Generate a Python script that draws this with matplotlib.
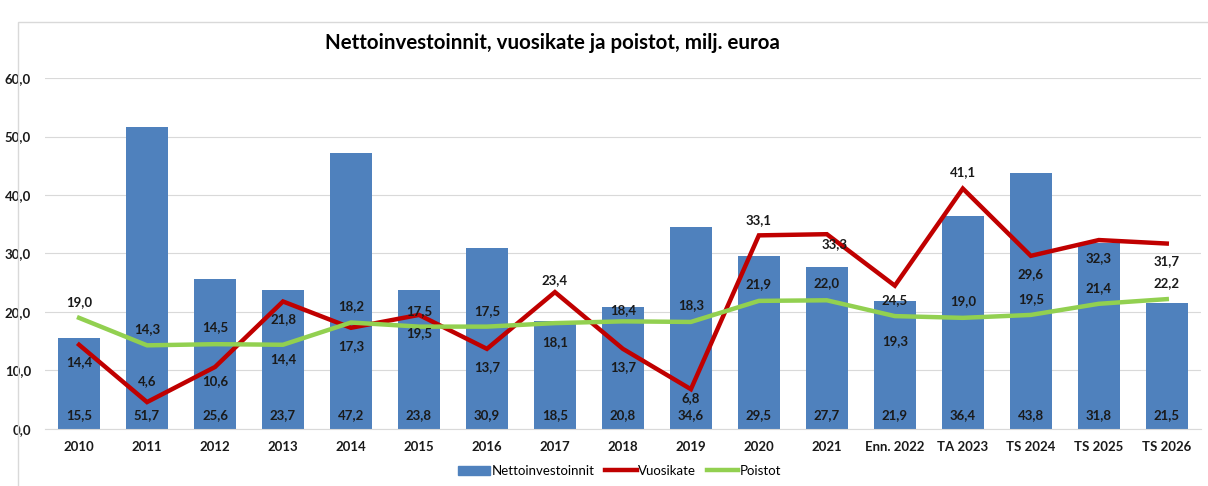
import matplotlib
matplotlib.use('Agg')
import matplotlib.pyplot as plt
from matplotlib.patches import Patch, Rectangle
from matplotlib.lines import Line2D
import numpy as np

plt.rcParams['font.family'] = ['Lato', 'DejaVu Sans']

categories = ['2010', '2011', '2012', '2013', '2014', '2015', '2016', '2017', '2018',
              '2019', '2020', '2021', 'Enn. 2022', 'TA 2023', 'TS 2024', 'TS 2025', 'TS 2026']
nettoinvestoinnit = [15.5, 51.7, 25.6, 23.7, 47.2, 23.8, 30.9, 18.5, 20.8,
                     34.6, 29.5, 27.7, 21.9, 36.4, 43.8, 31.8, 21.5]
vuosikate = [14.4, 4.6, 10.6, 21.8, 17.3, 19.5, 13.7, 23.4, 13.7,
             6.8, 33.1, 33.3, 24.5, 41.1, 29.6, 32.3, 31.7]
poistot = [19.0, 14.3, 14.5, 14.4, 18.2, 17.5, 17.5, 18.1, 18.4,
           18.3, 21.9, 22.0, 19.3, 19.0, 19.5, 21.4, 22.2]

# label offsets in pixels (the labels were hand placed in the original)
red_dy = [-17, 21, -14, -18, -18, -18, -18, 12, -18, -9, 15, -10, -14, 16, -18, -18, -18]
red_dx = [0, 0, 0, 0, 0, 0, 0, 0, 0, 0, 0, 8, 0, 0, 0, 0, 0]
green_dy = [16, 16, 17, -14, 16, 16, 16, -19, 11, 17, 17, 17, -25, 17, 16, 16, 16]

BLUE = '#4F81BD'
RED = '#C00000'
GREEN = '#92D050'
TXT = '#1a1a1a'

fig = plt.figure(figsize=(12.08, 4.86), dpi=100)
ax = fig.add_axes([0.0373, 0.1173, 0.9567, 0.7222])

x = np.arange(len(categories))
ax.bar(x, nettoinvestoinnit, width=0.62, color=BLUE, zorder=2)
ax.plot(x, vuosikate, color=RED, lw=3.2, zorder=3, solid_joinstyle='miter')
ax.plot(x, poistot, color=GREEN, lw=3.2, zorder=3)

for i in range(len(categories)):
    ax.annotate(f'{nettoinvestoinnit[i]:.1f}'.replace('.', ','), (x[i], 0),
                xytext=(0, 14), textcoords='offset pixels', ha='center', va='center',
                fontsize=9.5, fontweight='bold', color=TXT, zorder=4)
    ax.annotate(f'{vuosikate[i]:.1f}'.replace('.', ','), (x[i], vuosikate[i]),
                xytext=(red_dx[i], red_dy[i]), textcoords='offset pixels',
                ha='center', va='center', fontsize=9.5, fontweight='bold', color=TXT, zorder=4)
    ax.annotate(f'{poistot[i]:.1f}'.replace('.', ','), (x[i], poistot[i]),
                xytext=(0, green_dy[i]), textcoords='offset pixels',
                ha='center', va='center', fontsize=9.5, fontweight='bold', color=TXT, zorder=4)

ax.set_xlim(-0.5, len(categories) - 0.5)
ax.set_ylim(0, 60)
ax.set_yticks(np.arange(0, 61, 10))
ax.set_yticklabels([f'{v:.1f}'.replace('.', ',') for v in np.arange(0, 61, 10)])
ax.set_xticks(x)
ax.set_xticklabels(categories)
ax.tick_params(axis='both', length=0, labelsize=9.5, colors=TXT)
ax.tick_params(axis='x', pad=9)
ax.tick_params(axis='y', pad=10)
for lbl in ax.get_xticklabels() + ax.get_yticklabels():
    lbl.set_fontweight('bold')
ax.grid(axis='y', color='#D9D9D9', lw=0.8, zorder=0)
ax.set_axisbelow(True)
for s in ['top', 'right', 'left']:
    ax.spines[s].set_visible(False)
ax.spines['bottom'].set_color('#D9D9D9')

fig.text(0.457, 0.912, 'Nettoinvestoinnit, vuosikate ja poistot, milj. euroa',
         ha='center', va='center', fontsize=14.8, fontweight='bold', color='black')

handles = [Patch(color=BLUE), Line2D([], [], color=RED, lw=3.2), Line2D([], [], color=GREEN, lw=3.2)]
fig.legend(handles, ['Nettoinvestoinnit', 'Vuosikate', 'Poistot'], loc='center',
           bbox_to_anchor=(0.513, 0.031), ncol=3, frameon=False, fontsize=9.5,
           handlelength=2.4, handletextpad=0.1, columnspacing=0.8)

fig.add_artist(Rectangle((0.015, -0.01), 0.99, 0.965, transform=fig.transFigure,
                         fill=False, edgecolor='#D9D9D9', lw=1))

fig.savefig('out.png', dpi=100)
